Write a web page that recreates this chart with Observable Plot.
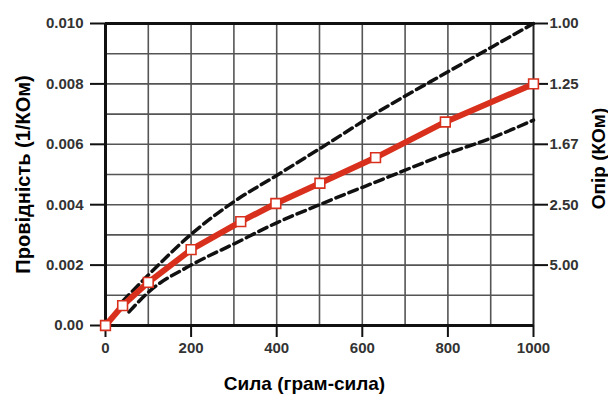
<!DOCTYPE html>
<html>
<head>
<meta charset="utf-8">
<script src="https://cdn.jsdelivr.net/npm/d3@7"></script>
<script src="https://cdn.jsdelivr.net/npm/@observablehq/plot@0.6"></script>
<style>
  body { margin: 0; background: #fff; }
  #chart svg { display: block; }
</style>
</head>
<body>
<div id="chart"></div>
<script>
// Measured series (force in gram-force, conductance in 1/KOhm)
const forceX = [0, 40, 100, 200, 316, 398, 501, 631, 794, 1000];
const conductance = [0, 0.00066, 0.00143, 0.00251, 0.00344, 0.00404, 0.00471, 0.00556, 0.00674, 0.0080];

// Upper dashed bound
const upperX = [40, 100, 200, 300, 400, 500, 640, 800, 900, 1000];
const upperY = [0.0008, 0.00167, 0.00302, 0.0041, 0.00497, 0.00585, 0.0071, 0.0084, 0.0092, 0.0100];

// Lower dashed bound
const lowerX = [55, 100, 200, 300, 400, 500, 640, 800, 900, 1000];
const lowerY = [0.00045, 0.0011, 0.0020, 0.0027, 0.0034, 0.0040, 0.0048, 0.0057, 0.0062, 0.0068];

// Axis ticks and labels
const xTicks = [0, 200, 400, 600, 800, 1000];
const xGrid = [100, 200, 300, 400, 500, 600, 700, 800, 900];
const yTicks = [0, 0.002, 0.004, 0.006, 0.008, 0.010];
const yGrid = [0.001, 0.002, 0.003, 0.004, 0.005, 0.006, 0.007, 0.008, 0.009];
const yLeftLabels = ["0.00", "0.002", "0.004", "0.006", "0.008", "0.010"];
const yRightTicks = [0.002, 0.004, 0.006, 0.008, 0.010];
const yRightLabels = ["5.00", "2.50", "1.67", "1.25", "1.00"];

const xTitle = "Сила (грам-сила)";
const yLeftTitle = "Провідність (1/КОм)";
const yRightTitle = "Опір (КОм)";

const main = forceX.map((x, i) => ({x, y: conductance[i]}));
const upper = upperX.map((x, i) => ({x, y: upperY[i]}));
const lower = lowerX.map((x, i) => ({x, y: lowerY[i]}));

const leftMap = new Map(yTicks.map((t, i) => [t, yLeftLabels[i]]));
const rightMap = new Map(yRightTicks.map((t, i) => [t, yRightLabels[i]]));

const red = "#d8301c";
const tickFont = {fontSize: 15, fontWeight: "bold", fill: "#333"};
const titleFont = {fontSize: 19, fontWeight: "bold", fill: "#000", textAnchor: "middle", lineAnchor: "middle"};

const chart = Plot.plot({
  width: 608,
  height: 394,
  marginLeft: 105,
  marginRight: 75,
  marginTop: 23,
  marginBottom: 69,
  style: {fontFamily: "'Liberation Sans', Arial, sans-serif", background: "#fff"},
  x: {domain: [0, 1000]},
  y: {domain: [0, 0.01]},
  marks: [
    Plot.gridX(xGrid, {stroke: "#555", strokeOpacity: 1, strokeWidth: 1.6}),
    Plot.gridY(yGrid, {stroke: "#555", strokeOpacity: 1, strokeWidth: 1.6}),
    Plot.axisX(xTicks, {anchor: "bottom", tickSize: 12, tickPadding: 5, tickFormat: d => String(d),
      stroke: "#111", strokeWidth: 2, label: null, ...tickFont}),
    Plot.axisY(yTicks, {anchor: "left", tickSize: 15, tickPadding: 7, tickFormat: d => leftMap.get(d),
      stroke: "#111", strokeWidth: 2, label: null, ...tickFont}),
    Plot.axisY(yRightTicks, {anchor: "right", tickSize: 14, tickPadding: 2, tickFormat: d => rightMap.get(d),
      stroke: "#111", strokeWidth: 2, label: null, ...tickFont}),
    Plot.ruleY([0, 0.01], {stroke: "#111", strokeWidth: 3}),
    Plot.ruleX([0], {stroke: "#111", strokeWidth: 3}),
    Plot.ruleX([1000], {stroke: "#222", strokeWidth: 2}),
    Plot.line(upper, {x: "x", y: "y", stroke: "#111", strokeWidth: 3.5, strokeDasharray: "9,5", curve: "monotone-x"}),
    Plot.line(lower, {x: "x", y: "y", stroke: "#111", strokeWidth: 3.5, strokeDasharray: "9,5", curve: "monotone-x"}),
    Plot.line(main, {x: "x", y: "y", stroke: red, strokeWidth: 6}),
    Plot.dot(main, {x: "x", y: "y", symbol: "square", r: 5.5, fill: "#fff", stroke: red, strokeWidth: 1.6}),
    Plot.text([xTitle], {frameAnchor: "bottom", dx: -15, dy: 58, ...titleFont}),
    Plot.text([yLeftTitle], {frameAnchor: "left", dx: -82, rotate: -90, ...titleFont, fontSize: 20, letterSpacing: 1.2}),
    Plot.text([yRightTitle], {frameAnchor: "right", dx: 65, dy: -16, rotate: -90, ...titleFont})
  ]
});
document.getElementById("chart").append(chart);
</script>
</body>
</html>
